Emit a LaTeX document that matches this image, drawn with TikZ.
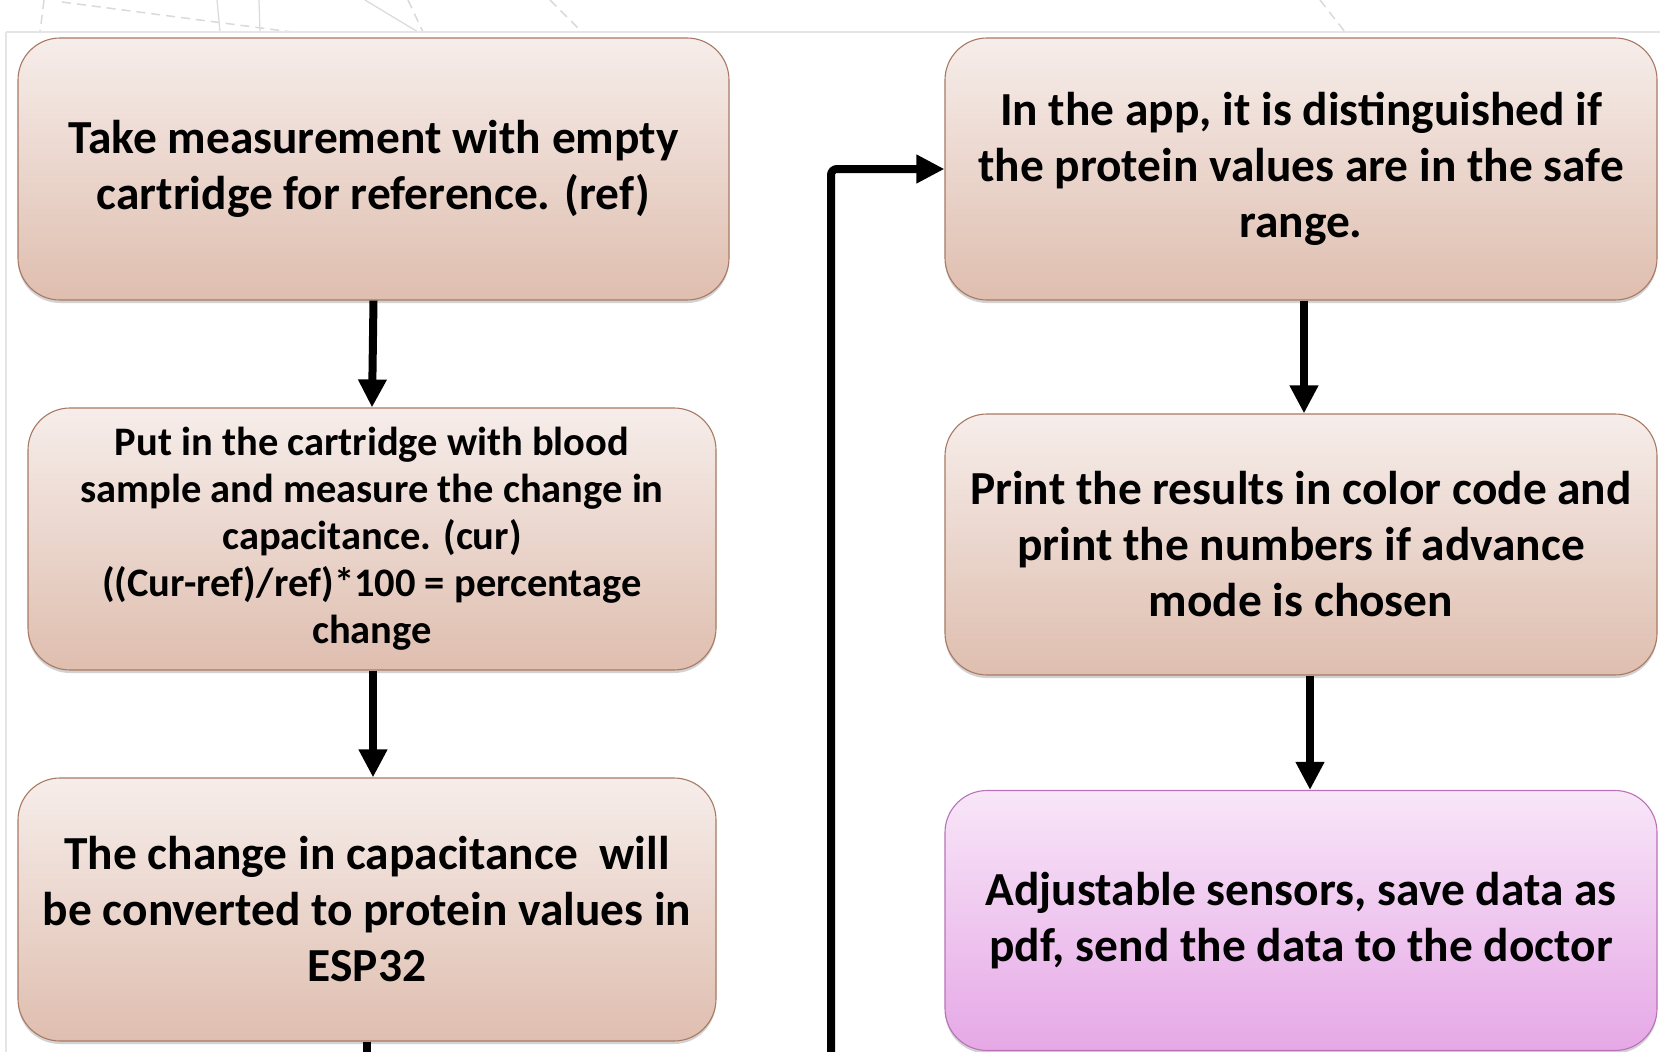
\documentclass[tikz,border=0pt]{standalone}
\usepackage{fontspec}
\setmainfont{Carlito}
\usetikzlibrary{arrows.meta, positioning, calc, shadows}

\begin{document}
\begin{tikzpicture}[
    x=1pt, y=-1pt,
    every node/.style={font=\bfseries},
]

% ---------------------------------------------------------------- colours
\definecolor{boxtop}{HTML}{F6EDEA}     % the step boxes, light at the top
\definecolor{boxbot}{HTML}{DFBEAF}     % ... and darker at the bottom
\definecolor{boxline}{HTML}{A87A64}
\definecolor{extratop}{HTML}{F8E6F8}   % the extra features box
\definecolor{extrabot}{HTML}{E6A8E6}
\definecolor{extraline}{HTML}{B873B8}
\definecolor{gridgrey}{HTML}{DADADA}

% ---------------------------------------------------------------- styles
\tikzset{
    stepbox/.style={rectangle, rounded corners=42pt, draw=boxline,
                    line width=1.1pt, top color=boxtop, bottom color=boxbot,
                    align=center, inner sep=0pt,
                    drop shadow={opacity=0.35, shadow xshift=0pt,
                                 shadow yshift=-3pt}},
    extrabox/.style={stepbox, draw=extraline, top color=extratop,
                     bottom color=extrabot},
    bigtext/.style={font=\bfseries\fontsize{47.4}{56}\selectfont},
    smalltext/.style={font=\bfseries\fontsize{40.5}{47}\selectfont},
    flow/.style={line width=8pt, -{Triangle[length=28pt, width=27pt]}},
}

\useasboundingbox (0,0) rectangle (1660,1052);
\fill[white] (0,0) rectangle (1660,1052);

% the slide behind, peeking out at the top and the left
\draw[gridgrey, line width=1.5pt, dashed, dash pattern=on 9pt off 6pt]
    (44,0) -- (40,32) (62,2) -- (292,32) (550,0) -- (582,32)
    (408,0) -- (423,32) (1320,0) -- (1345,32);
\draw[gridgrey, line width=1.2pt]
    (217,0) -- (220,32) (259,0) -- (260,32) (365,0) -- (418,32);
\draw[gridgrey!70, line width=1.2pt] (6,32) -- (1660,32) (6,32) -- (6,1052);

% ---------------------------------------------------------------- steps
\node[stepbox, bigtext, minimum width=711pt, minimum height=262pt]
    (ref) at (373.5,169)
    {Take measurement with empty\\cartridge for reference. (ref)};

\node[stepbox, smalltext, minimum width=688pt, minimum height=262pt]
    (cur) at (372,539)
    {Put in the cartridge with blood\\sample and measure the change in\\
     capacitance. (cur)\\((Cur-ref)/ref)*100 = percentage\\change};

\node[stepbox, bigtext, minimum width=698pt, minimum height=263pt]
    (esp) at (367,909.5)
    {The change in capacitance\ \ will\\be converted to protein values in\\ESP32};

\node[stepbox, bigtext, minimum width=712pt, minimum height=262pt]
    (app) at (1301,169)
    {In the app, it is distinguished if\\the protein values are in the safe\\range.};

\node[stepbox, bigtext, minimum width=712pt, minimum height=261pt]
    (print) at (1301,544.5)
    {Print the results in color code and\\print the numbers if advance\\mode is chosen};

\node[extrabox, bigtext, minimum width=712pt, minimum height=260pt]
    (extra) at (1301,920.5)
    {Adjustable sensors, save data as\\pdf, send the data to the doctor};

% ---------------------------------------------------------------- arrows
\draw[flow] (ref.south) -- (cur.north);
\draw[flow] ([xshift=1pt]cur.south) -- ([xshift=1pt]cur.south |- esp.north);
\draw[flow] ([xshift=3pt]app.south) -- ([xshift=3pt]app.south |- print.north);
\draw[flow] ([xshift=9pt]print.south) -- ([xshift=9pt]print.south |- extra.north);

% the flow leaves the bottom of the left column and comes back up
\coordinate (espout) at (367,1052);
\coordinate (loopin) at (831,1052);
\draw[line width=8pt] (esp.south) -- (espout);
\draw[flow, rounded corners=6pt] (loopin) |- (app.west);

\end{tikzpicture}
\end{document}
